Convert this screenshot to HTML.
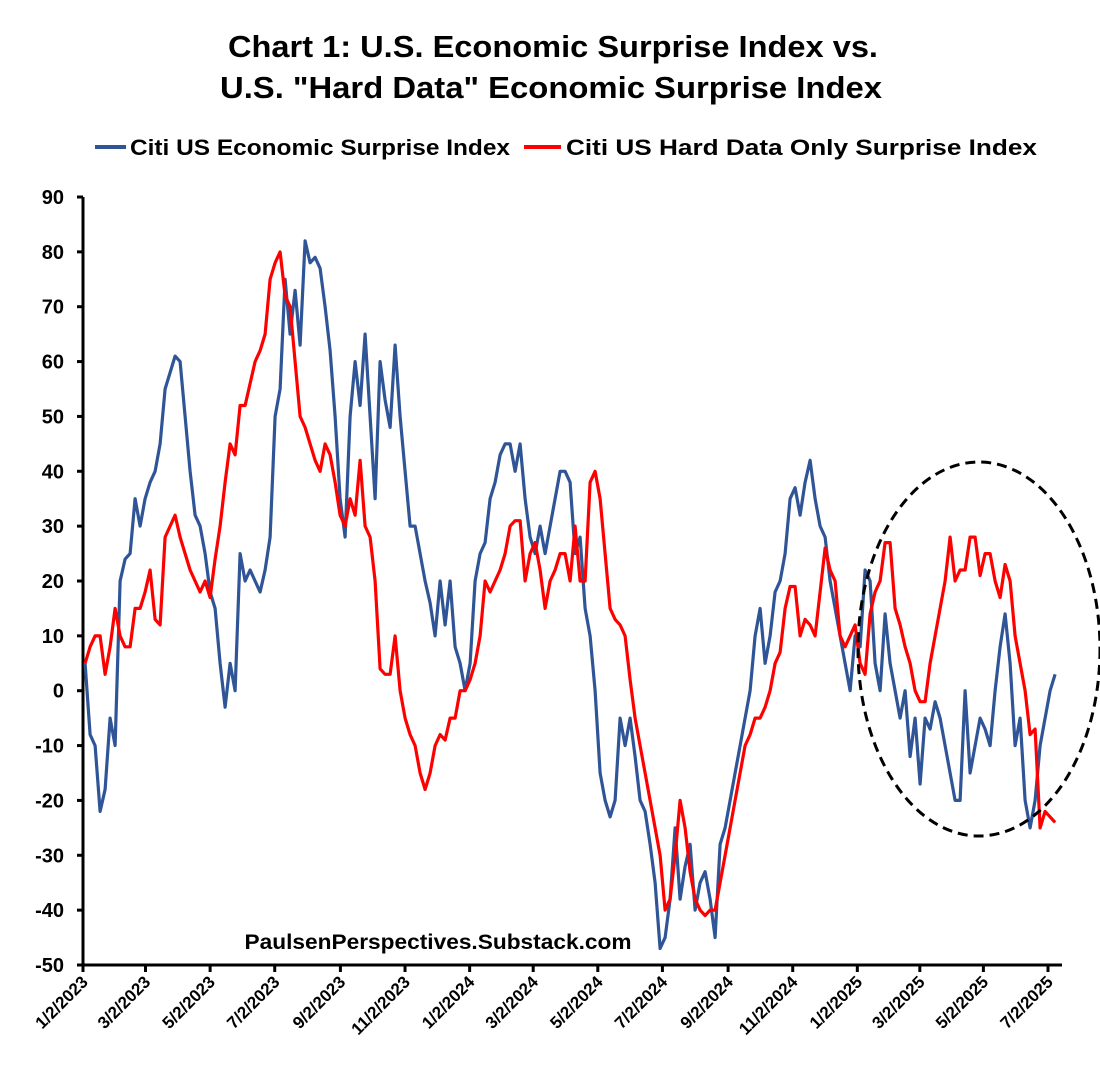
<!DOCTYPE html>
<html><head><meta charset="utf-8"><style>
body{margin:0;background:#fff;}
svg text{font-family:"Liberation Sans",sans-serif;font-weight:bold;fill:#000;}
</style></head><body>
<svg id="c" width="1100" height="1084">
<text x="553" y="57" text-anchor="middle" font-size="31" textLength="650" lengthAdjust="spacingAndGlyphs">Chart 1: U.S. Economic Surprise Index vs.</text>
<text x="551" y="98" text-anchor="middle" font-size="31" textLength="662" lengthAdjust="spacingAndGlyphs">U.S. "Hard Data" Economic Surprise Index</text>
<g>
<line x1="95" y1="147" x2="126" y2="147" stroke="#2f5597" stroke-width="4"/>
<text x="130" y="155" font-size="22" textLength="380" lengthAdjust="spacingAndGlyphs">Citi US Economic Surprise Index</text>
<line x1="524" y1="147" x2="561" y2="147" stroke="#ff0000" stroke-width="4"/>
<text x="566" y="155" font-size="22" textLength="471" lengthAdjust="spacingAndGlyphs">Citi US Hard Data Only Surprise Index</text>
</g>
<g id="axes"></g>
<g id="series"></g>
<text x="438" y="949" text-anchor="middle" font-size="21" textLength="387" lengthAdjust="spacingAndGlyphs">PaulsenPerspectives.Substack.com</text>
<ellipse cx="979" cy="649" rx="121" ry="187" fill="none" stroke="#000" stroke-width="3" stroke-dasharray="10,6"/>
</svg>
<script>
const yTicks=[90,80,70,60,50,40,30,20,10,0,-10,-20,-30,-40,-50];
const xTickLabels=["1/2/2023","3/2/2023","5/2/2023","7/2/2023","9/2/2023","11/2/2023","1/2/2024","3/2/2024","5/2/2024","7/2/2024","9/2/2024","11/2/2024","1/2/2025","3/2/2025","5/2/2025","7/2/2025"];
const xTickDays=[0,59,120,181,243,304,365,425,486,547,609,670,731,790,850,911];
const stepDays=4.72;
const econ=[5,-8,-10,-22,-18,-5,-10,20,24,25,35,30,35,38,40,45,55,58,61,60,50,40,32,30,25,18,15,5,-3,5,0,25,20,22,20,18,22,28,50,55,75,65,73,63,82,78,79,77,70,62,50,35,28,50,60,52,65,50,35,60,53,48,63,50,40,30,30,25,20,16,10,20,12,20,8,5,0,5,20,25,27,35,38,43,45,45,40,45,35,28,25,30,25,30,35,40,40,38,25,28,15,10,0,-15,-20,-23,-20,-5,-10,-5,-12,-20,-22,-28,-35,-47,-45,-38,-25,-38,-32,-28,-40,-35,-33,-38,-45,-28,-25,-20,-15,-10,-5,0,10,15,5,10,18,20,25,35,37,32,38,42,35,30,28,20,15,10,5,0,10,8,22,20,5,0,14,5,0,-5,0,-12,-5,-17,-5,-7,-2,-5,-10,-15,-20,-20,0,-15,-10,-5,-7,-10,0,8,14,5,-10,-5,-20,-25,-20,-10,-5,0,3];
const hard=[5,8,10,10,3,8,15,10,8,8,15,15,18,22,13,12,28,30,32,28,25,22,20,18,20,17,24,30,38,45,43,52,52,56,60,62,65,75,78,80,72,70,60,50,48,45,42,40,45,43,38,32,30,35,32,42,30,28,20,4,3,3,10,0,-5,-8,-10,-15,-18,-15,-10,-8,-9,-5,-5,0,0,2,5,10,20,18,20,22,25,30,31,31,20,25,27,22,15,20,22,25,25,20,30,20,20,38,40,35,25,15,13,12,10,2,-5,-10,-15,-20,-25,-30,-40,-38,-30,-20,-25,-33,-38,-40,-41,-40,-40,-35,-30,-25,-20,-15,-10,-8,-5,-5,-3,0,5,7,15,19,19,10,13,12,10,18,26,22,20,10,8,10,12,5,3,14,18,20,27,27,15,12,8,5,0,-2,-2,5,10,15,20,28,20,22,22,28,28,21,25,25,20,17,23,20,10,5,0,-8,-7,-25,-22,-23,-24];
const X0=83,pxPerDay=965/911,Y0=197,pxPerUnit=768/140;
const xs=d=>X0+d*pxPerDay;
const ys=v=>Y0+(90-v)*pxPerUnit;
const NS="http://www.w3.org/2000/svg";
const ax=document.getElementById('axes'),se=document.getElementById('series');
function mk(t,p,a){const e=document.createElementNS(NS,t);for(const k in a)e.setAttribute(k,a[k]);p.appendChild(e);return e;}
let e=mk('line',ax,{x1:X0,y1:Y0,x2:X0,y2:ys(-50),stroke:'#000','stroke-width':3});


e=mk('line',ax,{x1:X0,y1:ys(-50),x2:1062,y2:ys(-50),stroke:'#000','stroke-width':3});


yTicks.forEach(v=>{
 let t=mk('line',ax,{x1:X0-6,y1:ys(v),x2:X0,y2:ys(v),stroke:'#000','stroke-width':3});
 
 
 let l=mk('text',ax,{x:64,y:ys(v)+7,'text-anchor':'end','font-size':20});
 l.textContent=v;
 
 
});
xTickDays.forEach((d,i)=>{
 const x=xs(d);
 let t=mk('line',ax,{x1:x,y1:ys(-50),x2:x,y2:ys(-50)+7,stroke:'#000','stroke-width':3});
 
 
 let l=mk('text',ax,{x:x+6,y:ys(-50)+18,'text-anchor':'end','font-size':17,transform:`rotate(-45 ${x+6} ${ys(-50)+18})`});
 l.textContent=xTickLabels[i];
 
 
});
function line(arr,col,name){
 const pts=arr.map((v,i)=>xs(2+i*stepDays).toFixed(1)+','+ys(v).toFixed(1)).join(' ');
 const p=mk('polyline',se,{points:pts,fill:'none',stroke:col,'stroke-width':3.2,'stroke-linejoin':'round'});
 
 
}
line(econ,'#2f5597','economic-surprise-line');
line(hard,'#ff0000','hard-data-surprise-line');
</script>
</body></html>
